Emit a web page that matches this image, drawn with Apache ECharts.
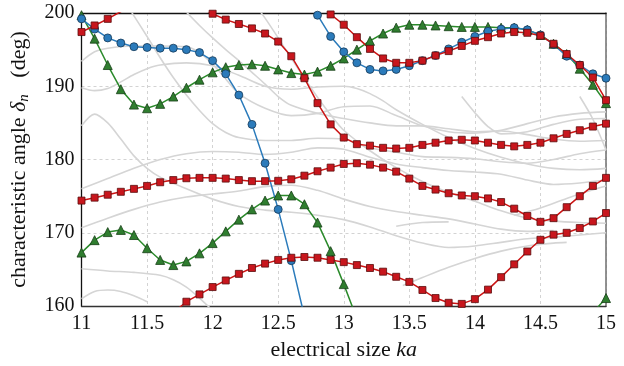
<!DOCTYPE html>
<html>
<head>
<meta charset="utf-8">
<script src="https://cdn.jsdelivr.net/npm/echarts@6/dist/echarts.min.js"></script>
<style>
  html, body { margin: 0; padding: 0; background: #fff; }
  #chart { width: 624px; height: 366px; }
</style>
</head>
<body>
<div id="chart"></div>
<script>
// sample positions (ka), 0.1 apart
const XS = [11.0, 11.1, 11.2, 11.3, 11.4, 11.5, 11.6, 11.7, 11.8, 11.9,
  12.0, 12.1, 12.2, 12.3, 12.4, 12.5, 12.6, 12.7, 12.8, 12.9,
  13.0, 13.1, 13.2, 13.3, 13.4, 13.5, 13.6, 13.7, 13.8, 13.9,
  14.0, 14.1, 14.2, 14.3, 14.4, 14.5, 14.6, 14.7, 14.8, 14.9, 15.0]

const X_TICKS = [11, 11.5, 12, 12.5, 13, 13.5, 14, 14.5, 15]
const Y_TICKS = [160, 170, 180, 190, 200]

// blue (circles)
const BLUE_A = [199.2, 197.8, 196.6, 195.9, 195.4, 195.3, 195.2, 195.2, 195.0, 194.6,
  193.5, 191.7, 188.8, 184.8, 179.5, 173.2, 166.2, 158.6, null, null,
  null, null, null, null, null, null, null, null, null, null,
  null, null, null, null, null, null, null, null, null, null, null]
const BLUE_B = [null, null, null, null, null, null, null, null, null, null,
  null, null, null, null, null, null, null, 203.5, 199.7, 196.8,
  194.7, 193.2, 192.3, 192.1, 192.3, 192.8, 193.5, 194.2, 195.1, 196.0,
  196.8, 197.5, 197.8, 198.0, 197.7, 197.0, 195.7, 194.1, 192.9, 191.7, 191.1]

// green (triangles)
const GREEN_A = [199.7, 196.5, 192.9, 189.6, 187.5, 187.0, 187.6, 188.6, 189.8, 190.9,
  191.9, 192.6, 192.9, 193.0, 192.8, 192.3, 191.8, 191.6, 192.0, 192.8,
  193.8, 195.0, 196.2, 197.2, 198.0, 198.4, 198.4, 198.3, 198.2, 198.1,
  198.1, 198.1, 198.0, 198.0, 197.7, 197.0, 195.8, 194.4, 192.4, 190.2, 187.7]
const GREEN_B = [167.3, 169.0, 170.1, 170.4, 169.7, 167.9, 166.3, 165.6, 166.1, 167.2,
  168.6, 170.2, 171.8, 173.2, 174.4, 175.1, 175.1, 173.9, 171.4, 167.5,
  163.0, 158.3, null, null, null, null, null, null, null, null,
  null, null, null, null, null, null, null, null, null, null, null]
const GREEN_C = [null, null, null, null, null, null, null, null, null, null,
  null, null, null, null, null, null, null, null, null, null,
  null, null, null, null, null, null, null, null, null, null,
  null, null, null, null, null, null, null, null, null, 159.1, 161.1]

// red (squares)
const RED_A = [197.4, 198.3, 199.2, 200.2, 201.3, null, null, null, null, null,
  null, null, null, null, null, null, null, null, null, null,
  null, null, null, null, null, null, null, null, null, null,
  null, null, null, null, null, null, null, null, null, null, null]
const RED_B = [null, null, null, null, null, null, null, null, null, 200.8,
  199.9, 199.1, 198.5, 197.9, 197.2, 196.1, 194.1, 191.1, 187.7, 184.8,
  183.0, 182.1, 181.9, 181.6, 181.5, 181.6, 182.0, 182.3, 182.6, 182.7,
  182.6, 182.3, 182.0, 181.8, 182.0, 182.3, 182.9, 183.5, 184.0, 184.5, 184.9]
const RED_C = [null, null, null, null, null, null, null, null, null, null,
  null, null, null, null, null, null, null, null, 201.6, 199.8,
  198.4, 196.7, 195.1, 193.8, 193.2, 193.2, 193.5, 194.2, 194.8, 195.5,
  196.2, 196.7, 197.2, 197.4, 197.3, 196.9, 195.8, 194.4, 192.9, 191.2, 188.1]
const RED_D = [174.4, 174.8, 175.2, 175.6, 176.0, 176.4, 176.9, 177.2, 177.45, 177.5,
  177.5, 177.4, 177.2, 177.05, 177.05, 177.1, 177.3, 177.8, 178.4, 178.9,
  179.4, 179.5, 179.3, 178.9, 178.35, 177.4, 176.4, 175.9, 175.4, 175.1,
  175.0, 174.7, 174.2, 173.3, 172.3, 171.5, 172.0, 173.5, 175.0, 176.4, 177.5]
const RED_E = [null, null, null, null, null, null, null, 159.1, 160.6, 161.6,
  162.6, 163.5, 164.4, 165.2, 165.8, 166.3, 166.6, 166.7, 166.6, 166.3,
  166.0, 165.6, 165.2, 164.7, 164.0, 163.3, 162.2, 161.1, 160.45, 160.3,
  160.95, 162.25, 163.95, 165.7, 167.45, 169.05, 169.75, 170.0, 170.65, 171.55, 172.7]

// light grey background curves, [ka, angle]
const GREY_1 = [[11.35, 201], [11.4, 199.6], [11.5, 196.8], [11.6, 193.9], [11.7, 191.2], [11.8, 188.8], [11.9, 186.7], [12.0, 184.9], [12.1, 183.7], [12.2, 183.0], [12.4, 182.6], [12.6, 182.6], [12.8, 182.9], [13.0, 182.8], [13.2, 181.6], [13.4, 181.0], [13.6, 180.4], [13.8, 180.3], [14.0, 180.1], [14.2, 179.7], [14.4, 179.5], [14.6, 180.0], [14.8, 180.8], [15.0, 181.3]]
const GREY_2 = [[11.78, 200.5], [11.9, 198.3], [12.0, 196.6], [12.1, 195.0], [12.2, 193.5], [12.3, 191.9], [12.4, 190.3], [12.5, 188.6], [12.6, 187.4], [12.8, 186.3], [13.0, 185.6], [13.2, 185.0], [13.4, 184.6], [13.6, 184.6], [13.8, 184.2], [14.0, 183.8], [14.2, 184.0], [14.4, 184.9], [14.6, 185.8], [14.8, 186.3], [15.0, 186.5]]
const GREY_3 = [[11.0, 193.4], [11.1, 194.7], [11.2, 195.2], [11.4, 195.5], [11.6, 195.5], [11.8, 195.4], [11.9, 194.6], [12.0, 193.0], [12.1, 191.0], [12.2, 189.0], [12.4, 187.0], [12.6, 186.0], [12.8, 186.3], [13.0, 187.2], [13.2, 187.3], [13.4, 186.0], [13.6, 184.6], [13.8, 183.8], [14.0, 183.6], [14.2, 183.9], [14.4, 183.4], [14.6, 182.8], [14.8, 182.5], [15.0, 182.6]]
const GREY_4 = [[11.0, 189.8], [11.1, 189.4], [11.2, 189.7], [11.3, 190.6], [11.4, 191.6], [11.5, 192.4], [11.6, 192.9], [11.8, 193.2], [12.0, 192.8], [12.2, 191.5], [12.4, 190.0], [12.6, 189.6], [12.8, 189.9], [13.0, 190.0], [13.1, 189.7], [13.2, 189.0], [13.3, 188.0], [13.4, 186.8], [13.6, 184.8], [13.8, 183.0], [14.0, 181.5], [14.2, 180.3], [14.4, 179.4], [14.6, 178.8], [14.8, 178.6], [15.0, 178.8]]
const GREY_5 = [[11.0, 184.6], [11.1, 186.2], [11.2, 185.0], [11.3, 182.8], [11.4, 180.5], [11.5, 178.8], [11.6, 177.6], [11.8, 176.0], [12.0, 174.6], [12.2, 173.6], [12.4, 173.1], [12.6, 172.8], [12.8, 172.4], [13.0, 171.8], [13.2, 170.8], [13.4, 169.6], [13.6, 168.6], [13.8, 168.0], [14.0, 168.2], [14.2, 168.7], [14.4, 169.2], [14.6, 169.4], [14.8, 169.7], [15.0, 170.0]]
const GREY_6 = [[11.0, 176.0], [11.2, 177.4], [11.4, 178.8], [11.6, 180.0], [11.8, 180.8], [12.0, 181.1], [12.2, 181.0], [12.4, 180.7], [12.6, 181.0], [12.8, 181.6], [13.0, 181.4], [13.2, 180.3], [13.4, 179.4], [13.6, 178.9], [13.8, 178.5], [14.0, 178.3], [14.2, 178.0], [14.4, 177.2], [14.6, 176.6], [14.8, 176.8], [15.0, 177.2]]
const GREY_7 = [[11.0, 170.7], [11.2, 172.0], [11.4, 173.2], [11.6, 174.2], [11.8, 174.9], [12.0, 175.3], [12.2, 175.7], [12.4, 176.3], [12.6, 176.5], [12.8, 175.8], [13.0, 174.6], [13.2, 173.6], [13.4, 172.9], [13.6, 172.4], [13.8, 171.9], [14.0, 171.2], [14.2, 170.5], [14.4, 170.2], [14.6, 170.3]]
const GREY_8 = [[11.0, 165.1], [11.2, 164.8], [11.4, 164.6], [11.6, 164.2], [11.7, 163.6], [11.8, 162.6], [11.9, 161.1], [12.0, 159.4]]
const GREY_9 = [[11.0, 161.0], [11.1, 162.0], [11.2, 162.2], [11.3, 162.0], [11.4, 161.4], [11.5, 160.6]]
const GREY_10 = [[13.9, 188.6], [14.0, 186.4], [14.1, 184.5], [14.2, 183.5], [14.4, 183.8], [14.6, 184.8], [14.8, 185.5], [15.0, 185.6]]
const GREY_11 = [[14.8, 188.6], [14.9, 185.5], [15.0, 181.3]]
const GREY_12 = [[13.4, 170.9], [13.6, 171.4], [13.8, 171.5]]
const GREY_13 = [[13.45, 162.8], [13.6, 163.9], [13.8, 165.3], [14.0, 166.5], [14.2, 167.5], [14.4, 168.2], [14.6, 168.6], [14.7, 168.7]]
const GREY_14 = [[12.35, 200.5], [12.4, 199.3], [12.5, 196.6], [12.6, 193.8], [12.7, 191.1], [12.8, 188.5], [12.9, 186.1], [13.0, 184.0], [13.2, 181.2], [13.4, 178.9], [13.6, 177.0], [13.8, 175.5], [14.0, 174.3], [14.2, 173.0], [14.4, 172.0], [14.6, 171.6], [14.8, 171.4], [15.0, 171.3]]
const GREY_15 = [[14.3, 172.4], [14.5, 173.4], [14.7, 174.7], [14.85, 175.6], [15.0, 176.4]]

const GREYS = [GREY_1, GREY_2, GREY_3, GREY_4, GREY_5, GREY_6, GREY_7, GREY_8,
  GREY_9, GREY_10, GREY_11, GREY_12, GREY_13, GREY_14, GREY_15]

const SERIF = 'Liberation Serif'
const pairs = ys => XS.map((x, i) => [x, ys[i]])

const greySeries = pts => ({
  type: 'line',
  data: pts,
  showSymbol: false,
  smooth: 0.3,
  silent: true,
  lineStyle: { color: '#d5d5d5', width: 1.6 },
  z: 1
})

const marked = (ys, color, fill, edge, symbol, size) => ({
  type: 'line',
  data: pairs(ys),
  symbol: symbol,
  symbolSize: size,
  showAllSymbol: true,
  lineStyle: { color: color, width: 1.5 },
  itemStyle: { color: fill, borderColor: edge, borderWidth: 0.8 },
  z: 3
})

const RED = ['#cc1414', '#c8161d', '#5a0c0c']
const GREEN = ['#2b8a2b', '#2f7d2f', '#173f17']
const BLUE = ['#2b7bbb', '#2b7bbb', '#173a58']

const series = [
  ...GREYS.map(greySeries),
  marked(GREEN_A, GREEN[0], GREEN[1], GREEN[2], 'triangle', 9),
  marked(GREEN_B, GREEN[0], GREEN[1], GREEN[2], 'triangle', 9),
  marked(GREEN_C, GREEN[0], GREEN[1], GREEN[2], 'triangle', 9),
  marked(BLUE_A, BLUE[0], BLUE[1], BLUE[2], 'circle', 8),
  marked(BLUE_B, BLUE[0], BLUE[1], BLUE[2], 'circle', 8),
  marked(RED_A, RED[0], RED[1], RED[2], 'rect', 7),
  marked(RED_B, RED[0], RED[1], RED[2], 'rect', 7),
  marked(RED_C, RED[0], RED[1], RED[2], 'rect', 7),
  marked(RED_D, RED[0], RED[1], RED[2], 'rect', 7),
  marked(RED_E, RED[0], RED[1], RED[2], 'rect', 7)
]

const dashed = { show: true, lineStyle: { color: '#cfcfcf', type: [3, 3], width: 0.9 } }
const hidden = { show: false }

const option = {
  animation: false,
  backgroundColor: '#fff',
  grid: { left: 80, right: 18, top: 13, bottom: 58 },
  xAxis: [
    {
      type: 'value',
      min: X_TICKS[0],
      max: X_TICKS[X_TICKS.length - 1],
      interval: 0.5,
      axisLine: { lineStyle: { color: '#333', width: 1.3 } },
      axisTick: hidden,
      splitLine: dashed,
      axisLabel: { color: '#111', fontFamily: SERIF, fontSize: 20, margin: 8 },
      name: '{a|electrical size }{i|ka}',
      nameLocation: 'middle',
      nameGap: 27,
      nameTextStyle: {
        color: '#111',
        rich: {
          a: { fontFamily: SERIF, fontSize: 22, color: '#111' },
          i: { fontFamily: SERIF, fontSize: 22, fontStyle: 'italic', color: '#111' }
        }
      }
    },
    {
      type: 'value', position: 'top',
      min: X_TICKS[0], max: X_TICKS[X_TICKS.length - 1], interval: 0.5,
      axisLine: { onZero: false, lineStyle: { color: '#111', width: 1.3 } },
      axisTick: hidden, axisLabel: hidden, splitLine: hidden
    }
  ],
  yAxis: [
    {
      type: 'value',
      min: Y_TICKS[0],
      max: Y_TICKS[Y_TICKS.length - 1],
      interval: 10,
      axisLine: { show: true, lineStyle: { color: '#111', width: 1.3 } },
      axisTick: hidden,
      splitLine: dashed,
      axisLabel: { color: '#111', fontFamily: SERIF, fontSize: 20, margin: 7 },
      name: '{a|characteristic angle }{i|δ}{s|n}{a|   (deg)}',
      nameLocation: 'middle',
      nameGap: 50,
      nameTextStyle: {
        color: '#111',
        rich: {
          a: { fontFamily: SERIF, fontSize: 22, color: '#111' },
          i: { fontFamily: SERIF, fontSize: 22, fontStyle: 'italic', color: '#111' },
          s: { fontFamily: SERIF, fontSize: 15, fontStyle: 'italic', color: '#111', padding: [10, 0, 0, 0] }
        }
      }
    },
    {
      type: 'value', position: 'right',
      min: Y_TICKS[0], max: Y_TICKS[Y_TICKS.length - 1], interval: 10,
      axisLine: { show: true, onZero: false, lineStyle: { color: '#777', width: 1.6 } },
      axisTick: hidden, axisLabel: hidden, splitLine: hidden
    }
  ],
  series: series
}

const chart = echarts.init(document.getElementById('chart'))
chart.setOption(option)
</script>
</body>
</html>
